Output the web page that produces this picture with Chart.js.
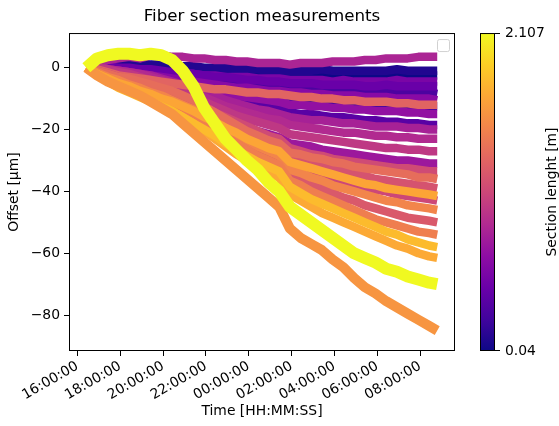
<!DOCTYPE html>
<html><head><meta charset="utf-8">
<script src="https://cdn.jsdelivr.net/npm/chart.js@4.4.1/dist/chart.umd.min.js"></script>
<style>html,body{margin:0;padding:0;background:#fff}#wrap{width:559px;height:426px}</style>
</head><body><div id="wrap"><canvas id="c" width="559" height="426"></canvas></div>
<script>
// time of each sample, hours after 16:00:00
const timeHours = [0.42,0.92,1.42,1.92,2.42,2.92,3.42,3.92,4.42,4.92,5.42,5.92,6.42,6.92,7.42,7.92,8.42,8.92,9.42,9.92,10.42,10.92,11.42,11.92,12.42,12.92,13.42,13.92,14.42,14.92,15.42,15.92,16.42,16.8];
const xTickHours = [0,2,4,6,8,10,12,14,16];
const xTickLabels = ['16:00:00','18:00:00','20:00:00','22:00:00','00:00:00','02:00:00','04:00:00','06:00:00','08:00:00'];
const yTicks = [-80,-60,-40,-20,0];
const cbTicks = [0.04, 2.107];
const cbTickLabels = ['0.04','2.107'];

// offsets [µm] per section
const s01 = [0,0,0.5,0.5,0,0,0,-0.5,-0.5,-1,-1,-1,-1.5,-1.5,-1.5,-2,-2,-2,-2,-2.5,-2.5,-2.5,-2,-2.5,-2.5,-2.5,-3,-2.5,-2.5,-2.5,-3,-2.5,-2.5,-2.5];
const s02 = [0,0.5,1,1,1,1.5,1,1,0.5,0.5,0.5,0,0,0,-0.5,-0.5,-0.5,-1,-1,-1,-1,-1,-0.5,-1,-1,-1,-1,-1,-1,-0.5,-1,-1,-1,-1];
const s03 = [0,0,-0.5,-1,-1.5,-2,-2.5,-3,-3.5,-4,-5,-5.5,-6,-7,-7.5,-8,-8.5,-9,-9.5,-10,-10,-10.5,-10.5,-11,-11,-11.5,-11.5,-12,-12,-12,-12.5,-12.5,-12.5,-12.5];
const s04 = [0,-0.5,-1,-1.5,-2,-2.5,-3,-3,-3.5,-4,-4,-4.5,-5,-5,-5.5,-5.5,-6,-6,-6.5,-6.5,-7,-7,-7,-7.5,-7.5,-7.5,-8,-8,-8,-8,-8.5,-8,-8,-8.5];
const s05 = [0,-0.5,-1,-2,-3,-3.5,-4.5,-5,-6,-7,-7.5,-8.5,-9.5,-10,-11,-11.5,-12,-13,-13.5,-14.5,-15,-15,-15.5,-16,-16,-16.5,-17,-17,-17.5,-17.5,-18,-18,-18.5,-18.5];
const s06 = [0,0,0,-0.5,-0.5,-1,-1,-1.5,-1.5,-2,-2,-2.5,-2.5,-3,-3,-3,-3.5,-3.5,-3.5,-4,-4,-4,-4,-4.5,-4,-4.5,-4.5,-4.5,-4.5,-4,-4.5,-4.5,-4.5,-4.5];
const s07 = [0,0.5,0.5,0,0,-0.5,-0.5,-1,-1.5,-1.5,-2,-2.5,-3,-3,-3.5,-4,-4,-4.5,-4.5,-5,-5,-5,-5.5,-5.5,-5.5,-5.5,-6,-6,-5.5,-6,-6,-6,-6,-6];
const s08 = [0,0,-0.5,-1,-1.5,-2,-2.5,-3,-3.5,-4,-4.5,-5,-5.5,-6,-6.5,-6.5,-7,-7.5,-7.5,-8,-8,-8.5,-8.5,-9,-9,-9,-9.5,-9.5,-9.5,-10,-10,-10,-10,-10.5];
const s09 = [0,-0.5,-1,-2,-2.5,-3,-3.5,-4.5,-5,-6,-6.5,-7.5,-8,-8.5,-9,-9.5,-10,-10.5,-11,-12,-12,-12.5,-12.5,-13,-13,-13.5,-13.5,-14,-14,-14,-14.5,-14.5,-15,-15];
const s10 = [0,1.5,2.5,3,3.5,3,4,4,3.5,3.5,3,3,2.5,2.5,2,2,1.5,1.5,1.5,1,1.5,1.5,1.5,2,2,2,2.5,2.5,3,3,3,3.5,3.5,3.5];
const s11 = [0,0,-0.5,-1,-1.5,-2,-2.5,-3.5,-4.5,-5.5,-7,-8,-9,-10.5,-11.5,-12.5,-13.5,-14,-15,-16,-16.5,-17,-17,-17.5,-18,-18,-18.5,-19,-19,-19,-19.5,-19.5,-20,-20];
const s12 = [0,0,-0.5,-1,-1.5,-2,-3,-4,-5,-6.5,-8,-9.5,-11,-12.5,-13.5,-14.5,-15.5,-16.5,-17,-18.5,-19,-19.5,-20,-20.5,-21,-21,-21.5,-22,-22,-22.5,-22.5,-23,-23,-23];
const s13 = [0,-0.5,-1,-2,-3,-4,-5,-6,-7.5,-9,-11,-12.5,-14,-16,-17.5,-19,-20.5,-21.5,-22.5,-24.5,-25,-25.5,-26.5,-27,-27.5,-28,-28.5,-29,-29.5,-30,-30,-30.5,-31,-31];
const s14 = [0,0,-0.5,-1.5,-2,-3,-4,-5,-6.5,-8,-9.5,-11,-12.5,-14,-15.5,-16.5,-17.5,-18.5,-19.5,-21.5,-22,-22.5,-23,-23.5,-24,-24.5,-25,-25.5,-26,-26,-26.5,-26.5,-27,-27];
const s15 = [0,-1,-2,-3,-3.5,-4.5,-5.5,-6.5,-8,-9.5,-11,-12.5,-14.5,-16,-17.5,-19,-20.5,-22,-23,-26,-27,-28,-28.5,-29.5,-30,-30.5,-31,-31.5,-32,-32.5,-32.5,-33,-33.5,-33.5];
const s16 = [0,-0.5,-1.5,-2.5,-3,-3.5,-4,-4.5,-5,-5.5,-6,-6.5,-7,-7,-7.5,-8,-8,-8.5,-8.5,-9,-9.5,-9.5,-10,-10,-10.5,-10.5,-11,-11,-11,-11.5,-11.5,-12,-12,-12];
const s17 = [0,-1,-2,-3,-4,-5,-6,-7,-8.5,-10,-11.5,-13.5,-15.5,-17.5,-19.5,-21.5,-23,-24.5,-25.5,-29,-30,-31,-32,-33,-33.5,-34.5,-35,-36,-36.5,-37,-37.5,-38,-38.5,-39];
const s18 = [0,-1,-2,-3,-4,-5,-6.5,-7.5,-9,-10.5,-12,-14,-16,-18,-20,-22,-24,-25.5,-27,-31,-32,-33,-34,-35.5,-36.5,-37.5,-38.5,-39.5,-40,-41,-41.5,-42,-42.5,-43];
const s19 = [0,-1.5,-2.5,-3.5,-5,-6,-7.5,-9,-10.5,-12,-14,-16,-18,-20,-22.5,-24.5,-26.5,-28,-29.5,-34.5,-36,-37.5,-39,-40.5,-42,-43,-44.5,-45.5,-46.5,-47.5,-48.5,-49,-49.5,-50];
const s20 = [0,-1,-2,-3,-3.5,-4.5,-5.5,-6.5,-7.5,-9,-10.5,-12.5,-14.5,-16.5,-18.5,-20.5,-22,-23.5,-24.5,-27.5,-28,-29,-29.5,-30.5,-31,-32,-32.5,-33,-33.5,-34,-34.5,-35.5,-35.5,-36];
const s21 = [0,-1.5,-3,-4,-5.5,-6.5,-8,-9,-10.5,-12,-13.5,-15.5,-17.5,-19.5,-21.5,-23.5,-25.5,-27,-28.5,-33,-34,-35.5,-36.5,-38,-39,-40,-41,-42,-43,-43.5,-44.5,-45,-45.5,-46];
const s22 = [0,-2,-3.5,-5,-6.5,-8,-9.5,-11,-12.5,-14.5,-16.5,-18.5,-20.5,-22.5,-24.5,-26.5,-28.5,-30,-31.5,-36.5,-38,-40,-41.5,-43,-44.5,-46,-47.5,-49,-50,-51,-52,-53,-53.5,-54];
const s23 = [0,-2,-4,-6,-7.5,-9,-10.5,-12,-14,-16,-18,-20.5,-23,-25.5,-28,-30,-32,-34,-35.5,-41,-43,-45,-47,-48.5,-50,-51.5,-53,-54.5,-56,-57.5,-58.5,-60,-61,-61.5];
const s24 = [0,-2,-3.5,-5,-6,-7.5,-8.5,-10,-11,-12.5,-14,-16,-17.5,-19.5,-21,-23,-24.5,-26,-27,-30.5,-31.5,-32.5,-33.5,-34.5,-35.5,-36.5,-37.5,-38,-39,-39.5,-40,-40.5,-41,-41.5];
const s25 = [0,-2.5,-4.5,-6.5,-8,-9.5,-11,-12.5,-14,-16,-18,-20,-22,-24.5,-26.5,-28.5,-30.5,-32,-33.5,-38.5,-40.5,-42.5,-44,-45.5,-47,-48.5,-50,-51.5,-53,-54,-55.5,-56.5,-57.5,-58];
const s26 = [0,-2.5,-4.5,-6,-7.5,-9,-11,-13,-15,-18,-21,-24,-27,-30,-33,-36,-39,-42,-45,-52,-55,-57,-59,-62,-64.5,-68,-71,-73,-75.5,-77.5,-79.5,-81.5,-83.5,-85];
const s27 = [0,3,4,4.5,4.5,4,4.5,4,2.5,-1,-6,-13,-18,-23,-26.5,-30,-33,-37,-40,-45,-47.5,-50,-52.5,-55,-57.5,-60,-61.5,-63,-65,-66,-67.5,-68.5,-69.5,-70];

const offsets = [s01,s02,s03,s04,s05,s06,s07,s08,s09,s10,s11,s12,s13,s14,s15,s16,s17,s18,s19,s20,s21,s22,s23,s24,s25,s26,s27];
// section length [m] of each series
const sectionLengths = [0.04,0.12,0.22,0.30,0.37,0.54,0.45,0.62,0.68,0.83,0.80,0.87,0.74,0.97,1.10,1.28,1.16,1.07,1.20,1.34,1.49,1.45,1.71,1.69,1.80,1.59,2.107];

const PLASMA = ['#0d0887','#41049d','#6a00a8','#8f0da4','#b12a90','#cc4778','#e16462','#f2844b','#fca636','#fcce25','#f0f921'];
function hx(h){return [parseInt(h.substr(1,2),16),parseInt(h.substr(3,2),16),parseInt(h.substr(5,2),16)];}
function plasma(t){
  t=Math.max(0,Math.min(1,t));
  const p=t*10, i=Math.min(9,Math.floor(p)), f=p-i;
  const a=hx(PLASMA[i]), b=hx(PLASMA[i+1]);
  return 'rgb('+a.map((v,k)=>Math.round(v+(b[k]-v)*f)).join(',')+')';
}
const cbMin = cbTicks[0], cbMax = cbTicks[cbTicks.length-1];
const FONT = '"DejaVu Sans", "Liberation Sans", sans-serif';

const datasets = offsets.map((arr,i)=>({
  data: arr.map((v,j)=>({x: timeHours[j], y: v})),
  borderColor: plasma((sectionLengths[i]-cbMin)/(cbMax-cbMin)),
  borderWidth: sectionLengths[i] >= 2 ? 12 : (i === 25 ? 10 : 8.5),
  pointRadius: 0,
  tension: 0,
  fill: false,
  borderJoinStyle: 'round',
  borderCapStyle: 'butt',
  order: -i
}));

const decor = {
  id: 'decor',
  afterDatasetsDraw(chart){
    const {ctx, chartArea: a} = chart;
    ctx.save();
    ctx.strokeStyle = '#000'; ctx.lineWidth = 1;
    ctx.strokeRect(a.left+0.5, a.top+0.5, a.right-a.left-1, a.bottom-a.top-1);
    // empty legend frame (upper right)
    const lx = a.right-18, ly = a.top+6, s = 12;
    ctx.strokeStyle = 'rgba(204,204,204,0.9)'; ctx.fillStyle='rgba(255,255,255,0.8)';
    ctx.beginPath();
    if (ctx.roundRect) ctx.roundRect(lx+0.5, ly+0.5, s, s, 2); else ctx.rect(lx+0.5, ly+0.5, s, s);
    ctx.fill(); ctx.stroke();
    ctx.restore();
  },
  afterDraw(chart){
    const {ctx, chartArea: a} = chart;
    const x0 = a.right + 25, w = 15, top = a.top, bot = a.bottom;
    ctx.save();
    const g = ctx.createLinearGradient(0, bot, 0, top);
    PLASMA.forEach((c,i)=>g.addColorStop(i/10, c));
    ctx.fillStyle = g;
    ctx.fillRect(x0, top, w, bot-top);
    ctx.strokeStyle = '#000'; ctx.lineWidth = 1;
    ctx.strokeRect(x0+0.5, top+0.5, w-1, bot-top-1);
    ctx.font = '13.9px ' + FONT; ctx.fillStyle = '#000';
    ctx.textBaseline = 'middle'; ctx.textAlign = 'left';
    cbTicks.forEach((v,i)=>{
      const y = bot - (v-cbMin)/(cbMax-cbMin)*(bot-top);
      const yy = Math.round(y) + (i===0 ? -0.5 : 0.5);
      ctx.beginPath(); ctx.moveTo(x0+w, yy); ctx.lineTo(x0+w+5, yy); ctx.stroke();
      ctx.fillText(cbTickLabels[i], x0+w+10, y);
    });
    ctx.translate(552, (top+bot)/2);
    ctx.rotate(-Math.PI/2);
    ctx.textAlign = 'center';
    ctx.fillText('Section lenght [m]', 0, 0);
    ctx.restore();
  }
};

new Chart(document.getElementById('c'), {
  type: 'line',
  data: { datasets },
  plugins: [decor],
  options: {
    responsive: false,
    animation: false,
    events: [],
    layout: { padding: { left: 0, right: 104, top: 0, bottom: 0 } },
    plugins: {
      legend: { display: false },
      tooltip: { enabled: false },
      title: {
        display: true, text: 'Fiber section measurements', fullSize: false,
        color: '#000', font: { family: FONT, size: 16.7, weight: 'normal' },
        padding: { top: 7, bottom: 6 }
      }
    },
    scales: {
      x: {
        type: 'linear', min: -0.39, max: 17.63,
        afterFit(s){ s.height = 75; },
        afterBuildTicks(s){ s.ticks = xTickHours.map(v=>({value:v})); },
        border: { display: false },
        grid: { drawOnChartArea: false, drawTicks: true, tickLength: 5, tickColor: '#000', color: '#000' },
        ticks: {
          color: '#000', font: { family: FONT, size: 13.9 }, padding: 2,
          minRotation: 30, maxRotation: 30, autoSkip: false,
          callback(v){ const k = xTickHours.indexOf(v); return k >= 0 ? xTickLabels[k] : ''; }
        },
        title: { display: true, text: 'Time [HH:MM:SS]', color: '#000', font: { family: FONT, size: 13.9 }, padding: { top: 0, bottom: 6 } }
      },
      y: {
        type: 'linear', min: -91.6, max: 11.2,
        afterFit(s){ s.width = 69; },
        afterBuildTicks(s){ s.ticks = yTicks.map(v=>({value:v})); },
        border: { display: false },
        grid: { drawOnChartArea: false, drawTicks: true, tickLength: 5, tickColor: '#000', color: '#000' },
        ticks: {
          color: '#000', font: { family: FONT, size: 13.9 }, padding: 4,
          callback(v){ return String(v).replace('-', '\u2212'); }
        },
        title: { display: true, text: 'Offset [µm]', color: '#000', font: { family: FONT, size: 13.9 }, padding: { top: 6, bottom: 0 } }
      }
    }
  }
});
</script>
</body></html>
